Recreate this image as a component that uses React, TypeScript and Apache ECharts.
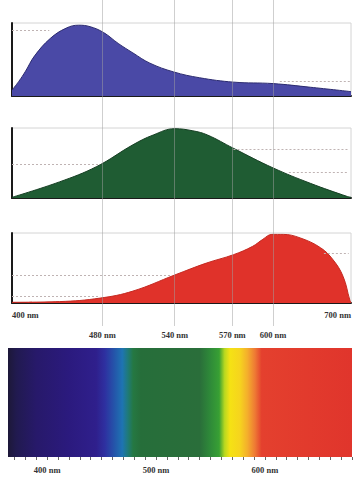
import React, { useEffect, useRef } from 'react';
import * as echarts from 'echarts';

// S-cone (blue) response
const blueNm = [400, 406, 412, 420, 434, 448, 459, 469, 481, 494, 507, 522, 543, 566, 596, 631, 664, 700];
const blueVal = [8, 20, 34, 55, 79, 93, 97, 95, 87, 72, 59, 45, 33, 25, 19, 17, 12, 6];

// M-cone (green) response
const greenNm = [400, 442, 475, 507, 525, 544, 560, 573, 596, 631, 664, 697, 700];
const greenVal = [1, 23, 45, 76, 90, 99, 96, 90, 71, 43, 21, 2, 1];

// L-cone (red) response
const redNm = [400, 442, 478, 507, 544, 572, 596, 613, 622, 630, 640, 655, 673, 684, 693, 699, 700];
const redVal = [1, 2, 7, 17, 40, 57, 69, 81, 91, 98, 98, 93, 79, 62, 38, 4, 1];

// dotted reference levels per panel: [fromNm, toNm, level]
const blueRefs = [[400, 433, 90], [637, 700, 20]];
const greenRefs = [[400, 478, 48], [596, 697, 70], [645, 697, 37]];
const redRefs = [[400, 540, 40], [400, 478, 9], [676, 698, 71]];

// vertical guide lines and their labels
const guideNm = [480, 544, 595, 631];
const guideLabels = ['480 nm', '540 nm', '570 nm', '600 nm'];
const edgeNm = [400, 700];
const edgeLabels = ['400 nm', '700 nm'];

// visible spectrum strip
const spectrumMin = 364;
const spectrumMax = 680;
const spectrumStops: [number, string][] = [
  [364, '#1d1838'], [372, '#211a50'], [390, '#27196a'], [420, '#2b1a7e'],
  [445, '#2f1f8c'], [453, '#2e30a0'], [462, '#2456aa'], [469, '#1e74b2'],
  [474, '#1f7a7a'], [479, '#257842'], [486, '#266e3a'], [540, '#2a6e3a'],
  [549, '#2e8839'], [558, '#38a034'], [563, '#b8d820'], [568, '#f5e214'],
  [577, '#f6d41e'], [584, '#f4ae2c'], [591, '#ee7834'], [597, '#e4402e'],
  [680, '#e0352c'],
];
const spectrumTicks = [370, 380, 390, 400, 410, 420, 430, 440, 450, 460, 470, 480, 490, 500, 510, 520, 530, 540, 550, 560, 570, 580, 590, 600, 610, 620, 630, 640, 650, 660, 670, 680];
const spectrumLabelNm = [400, 500, 600];
const spectrumLabels = ['400 nm', '500 nm', '600 nm'];

const labelFont = { fontFamily: 'Liberation Serif', fontWeight: 'bold' as const, fontSize: 8.5, color: '#333333' };

export default function App() {
  const ref = useRef<HTMLDivElement>(null);
  useEffect(() => {
    const chart = echarts.init(ref.current!, null, { renderer: 'svg' });
    const panels = [
      { top: 23, height: 73, nm: blueNm, val: blueVal, refs: blueRefs, fill: '#4a49a6', edge: '#2c2b70' },
      { top: 128, height: 70, nm: greenNm, val: greenVal, refs: greenRefs, fill: '#1f5c33', edge: '#163f24' },
      { top: 233, height: 70, nm: redNm, val: redVal, refs: redRefs, fill: '#e0322a', edge: '#c42a22' },
    ];
    const grids: any[] = panels.map((p) => ({
      left: 12, right: 8, top: p.top, height: p.height,
      show: true, borderColor: '#d4d4d4', borderWidth: 1, backgroundColor: 'transparent',
    }));
    grids.push({ left: 8, right: 7, top: 348, height: 109 });
    grids.push({ left: 12, right: 8, top: 0, height: 326 });

    const xAxes: any[] = panels.map((p, i) => ({
      gridIndex: i, type: 'value', min: 400, max: 700, interval: 300,
      axisLine: { show: true, onZero: false, lineStyle: { color: '#1a1a1a', width: 2 } },
      axisTick: { show: false },
      splitLine: { show: false },
      axisLabel: i === 2 ? {
        show: true, ...labelFont, margin: 7,
        alignMinLabel: 'left', alignMaxLabel: 'right',
        formatter: (v: number) => edgeLabels[edgeNm.indexOf(v)] ?? '',
      } : { show: false },
    }));
    xAxes.push({
      gridIndex: 3, type: 'value', min: spectrumMin, max: spectrumMax,
      axisLine: { show: false },
      axisTick: { show: true, customValues: spectrumTicks, length: 3, lineStyle: { color: '#666', width: 1 } },
      axisLabel: {
        show: true, customValues: spectrumLabelNm, ...labelFont, margin: 8,
        formatter: (v: number) => spectrumLabels[spectrumLabelNm.indexOf(v)] ?? '',
      },
      splitLine: { show: false },
    });
    xAxes.push({ gridIndex: 4, type: 'value', min: 400, max: 700, show: false });

    const yAxes: any[] = panels.map((p, i) => ({
      gridIndex: i, type: 'value', min: 0, max: 100,
      axisLine: { show: true, onZero: false, lineStyle: { color: '#1a1a1a', width: 2 } },
      axisTick: { show: false }, axisLabel: { show: false }, splitLine: { show: false },
    }));
    yAxes.push({ gridIndex: 3, type: 'value', min: 0, max: 1, show: false });
    yAxes.push({ gridIndex: 4, type: 'value', min: 0, max: 1, show: false });

    const series: any[] = panels.map((p, i) => ({
      type: 'line', xAxisIndex: i, yAxisIndex: i,
      data: p.nm.map((n, k) => [n, p.val[k]]),
      smooth: 0.4, symbol: 'none',
      lineStyle: { color: p.edge, width: 1 },
      areaStyle: { color: p.fill, opacity: 1 },
      z: 2,
      markLine: {
        silent: true, symbol: ['none', 'none'], label: { show: false },
        lineStyle: { color: '#bfb3b3', width: 1, type: [2, 2] },
        data: p.refs.map((r) => [{ coord: [r[0], r[2]] }, { coord: [r[1], r[2]] }]),
      },
    }));

    const span = spectrumMax - spectrumMin;
    series.push({
      type: 'line', xAxisIndex: 3, yAxisIndex: 3,
      data: [[spectrumMin, 1], [spectrumMax, 1]],
      symbol: 'none', lineStyle: { width: 0 },
      areaStyle: {
        opacity: 1,
        color: new echarts.graphic.LinearGradient(0, 0, 1, 0,
          spectrumStops.map(([n, c]) => ({ offset: (n - spectrumMin) / span, color: c }))),
      },
    });

    series.push({
      type: 'line', xAxisIndex: 4, yAxisIndex: 4, data: [], symbol: 'none', z: 5,
      markLine: {
        silent: true, symbol: ['none', 'none'],
        lineStyle: { color: 'rgba(160,160,160,0.5)', width: 1, type: 'solid' },
        label: { show: true, position: 'start', distance: 4, ...labelFont },
        data: guideNm.map((n, i) => ({ xAxis: n, label: { formatter: guideLabels[i] } })),
      },
    });

    chart.setOption({
      animation: false,
      backgroundColor: '#ffffff',
      grid: grids,
      xAxis: xAxes,
      yAxis: yAxes,
      series,
    });
    return () => chart.dispose();
  }, []);
  return <div ref={ref} style={{ position: 'fixed', left: 0, top: 0, width: 359, height: 478 }} />;
}
